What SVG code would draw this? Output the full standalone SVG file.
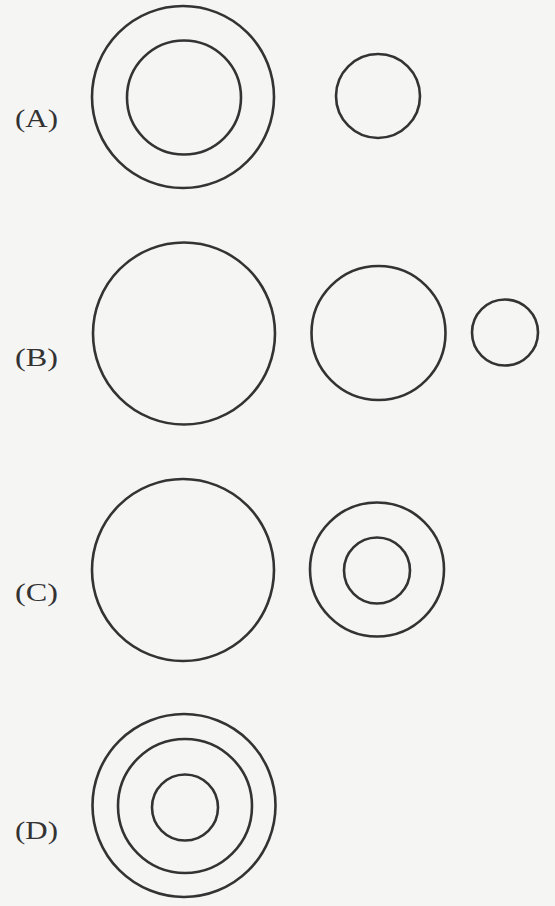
<svg xmlns="http://www.w3.org/2000/svg" width="555" height="906" viewBox="0 0 555 906">
<style>
.c{fill:none;stroke:#333;stroke-width:2.6}
.t{font-family:"Liberation Serif","DejaVu Serif",serif;font-size:25px;fill:#333}
</style>
<rect width="555" height="906" fill="#f5f5f4"/>
<g id="optionA">
<text class="t" x="15" y="127" textLength="43" lengthAdjust="spacingAndGlyphs">(A)</text>
<circle class="c" cx="183" cy="97" r="91"/>
<circle class="c" cx="184" cy="97.5" r="57"/>
<circle class="c" cx="378" cy="96" r="42"/>
</g>
<g id="optionB">
<text class="t" x="15" y="366" textLength="43" lengthAdjust="spacingAndGlyphs">(B)</text>
<circle class="c" cx="184" cy="333.5" r="91"/>
<circle class="c" cx="378.5" cy="333" r="67"/>
<circle class="c" cx="505" cy="332.5" r="33"/>
</g>
<g id="optionC">
<text class="t" x="15" y="601" textLength="43" lengthAdjust="spacingAndGlyphs">(C)</text>
<circle class="c" cx="183" cy="570" r="91"/>
<circle class="c" cx="377" cy="569.5" r="67"/>
<circle class="c" cx="377" cy="570.5" r="33"/>
</g>
<g id="optionD">
<text class="t" x="15" y="839" textLength="43" lengthAdjust="spacingAndGlyphs">(D)</text>
<circle class="c" cx="184" cy="805.5" r="91.5"/>
<circle class="c" cx="185" cy="806" r="67"/>
<circle class="c" cx="185" cy="807.5" r="33"/>
</g>
<g id="connectors"/>
</svg>
